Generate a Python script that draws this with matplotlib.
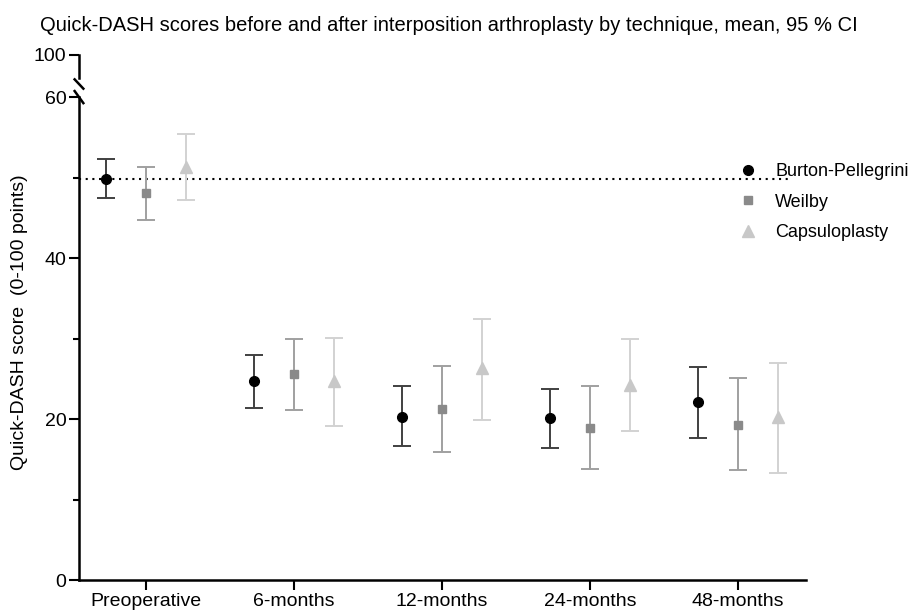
import matplotlib.pyplot as plt
import numpy as np

plt.rcParams['font.family'] = ['Liberation Sans', 'DejaVu Sans']

timepoints = ['Preoperative', '6-months', '12-months', '24-months', '48-months']
techniques = ['Burton-Pellegrini', 'Weilby', 'Capsuloplasty']

# mean, lower 95% CI, upper 95% CI
burton_mean = [49.8, 24.7, 20.3, 20.2, 22.1]
burton_lo = [47.5, 21.4, 16.6, 16.4, 17.6]
burton_hi = [52.3, 28.0, 24.1, 23.8, 26.5]

weilby_mean = [48.1, 25.6, 21.2, 18.9, 19.3]
weilby_lo = [44.8, 21.1, 15.9, 13.8, 13.7]
weilby_hi = [51.4, 30.0, 26.6, 24.1, 25.1]

caps_mean = [51.3, 24.7, 26.3, 24.3, 20.3]
caps_lo = [47.2, 19.2, 19.9, 18.5, 13.3]
caps_hi = [55.4, 30.1, 32.5, 29.9, 27.0]

preop_reference = 49.8

series = [
    (burton_mean, burton_lo, burton_hi, 'o', 'black', '#404040', -0.27, 7),
    (weilby_mean, weilby_lo, weilby_hi, 's', '#8a8a8a', '#a0a0a0', 0.0, 6),
    (caps_mean, caps_lo, caps_hi, '^', '#c8c8c8', '#d2d2d2', 0.27, 9),
]

fig = plt.figure(figsize=(9.08, 6.11), dpi=100)
ax = fig.add_axes([0.087, 0.0507, 0.801, 0.790])
ax_top = fig.add_axes([0.087, 0.872, 0.801, 0.038])

x = np.arange(len(timepoints))
handles = []
for (m, lo, hi, mk, mc, ec, off, ms), name in zip(series, techniques):
    m = np.array(m)
    yerr = [m - np.array(lo), np.array(hi) - m]
    ax.errorbar(x + off, m, yerr=yerr, fmt='none', ecolor=ec, elinewidth=1.4,
                capsize=6.5, capthick=1.4, zorder=2)
    h, = ax.plot(x + off, m, linestyle='none', marker=mk, color=mc,
                 markersize=ms, zorder=3, label=name)
    handles.append(h)

ax.hlines(preop_reference, -0.45, 4.35, colors='black', linestyles=(0, (1, 2.2)),
          linewidth=1.5, zorder=1)

ax.set_xlim(-0.45, 4.46)
ax.set_ylim(0, 60)
ax.set_yticks([0, 20, 40, 60])
ax.set_yticks([10, 30, 50], minor=True)
ax.set_xticks(x)
ax.set_xticklabels(timepoints)
ax.tick_params(axis='both', labelsize=14, width=1.5, length=7, direction='out', pad=2)
ax.tick_params(axis='y', which='minor', width=1.5, length=4)
for s in ['top', 'right']:
    ax.spines[s].set_visible(False)
for s in ['left', 'bottom']:
    ax.spines[s].set_linewidth(1.8)
ax.set_ylabel('Quick-DASH score  (0-100 points)', fontsize=14)
ax.yaxis.set_label_coords(-0.070, 0.534)

ax_top.set_xlim(-0.45, 4.46)
ax_top.set_ylim(96, 100)
ax_top.set_yticks([100])
ax_top.set_xticks([])
ax_top.tick_params(axis='y', labelsize=14, width=1.5, length=7, pad=2)
for s in ['top', 'right', 'bottom']:
    ax_top.spines[s].set_visible(False)
ax_top.spines['left'].set_linewidth(1.8)
ax_top.patch.set_alpha(0)

# break marks
kw = dict(color='black', linewidth=1.8, clip_on=False)
ax_top.plot([-0.006, 0.006], [-0.05, -0.45], transform=ax_top.transAxes, **kw)
ax.plot([-0.006, 0.006], [1.013, 0.988], transform=ax.transAxes, **kw)

ax.legend(handles=handles, loc='upper left', bbox_to_anchor=(0.804, 0.745),
          bbox_transform=fig.transFigure, borderaxespad=0,
          frameon=False, fontsize=13, handletextpad=0.9, labelspacing=0.75,
          handlelength=1.2)

fig.text(0.044, 0.958, 'Quick-DASH scores before and after interposition arthroplasty by technique, mean, 95 % CI',
         fontsize=14.5, ha='left', va='center')

fig.savefig('out.png', dpi=100)
